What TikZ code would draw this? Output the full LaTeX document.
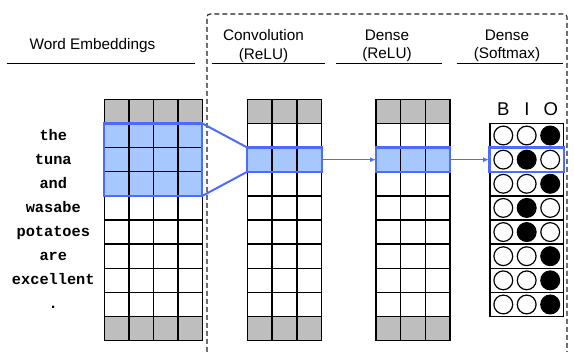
\documentclass[tikz,border=0pt]{standalone}
\usepackage{fontspec}
\setmainfont{Liberation Sans}
\newfontfamily\wordfont{Liberation Mono}
\usetikzlibrary{arrows.meta}
\definecolor{hlfill}{HTML}{A6C8FF}
\definecolor{hlline}{HTML}{4D6BFF}
\definecolor{cellgray}{HTML}{BEBEBE}
\definecolor{dashcol}{HTML}{222222}
\begin{document}
\begin{tikzpicture}[x=1pt,y=-1pt,
  gridline/.style={line width=1.45pt,black},
  hlarea/.style={fill=hlfill,inner sep=0pt,outer sep=0pt,anchor=north west},
  hlborder/.style={line width=2.3pt,hlline},
  hlconn/.style={line width=2pt,hlline},
  hlarrow/.style={line width=1.3pt,hlline,-{Latex[length=6pt,width=5pt]}},
  header/.style={font=\fontsize{15.3}{18.3}\selectfont,align=center,inner sep=0pt},
  headrule/.style={line width=0.9pt,black},
  word/.style={font=\wordfont\bfseries\fontsize{15.3}{18}\selectfont,anchor=base,inner sep=0pt},
  biolabel/.style={font=\fontsize{18.5}{20}\selectfont,anchor=base,inner sep=0pt},
  dashbox/.style={line width=1.1pt,dashcol,dash pattern=on 5pt off 3pt,rounded corners=3pt},
  emptydot/.style={draw=black,line width=1.2pt,fill=white},
  fulldot/.style={draw=black,line width=1.2pt,fill=black}
]
\useasboundingbox (0,0) rectangle (574,352);
\def\rh{24.14}
\def\yt{99.3}
\pgfmathsetmacro\yb{\yt+10*\rh}
% x positions
\def\ea{104.3}\def\ew{24.5}
\def\ca{247.3}\def\cw{24.8}
\def\da{376}\def\dw{24.67}
% ---------- dashed box
\draw[dashbox] (207,360) -- (207,14) -- (567,14) -- (567,360);
% ---------- headers
\node[header] (hwe) at (92.5,46) {Word Embeddings};
\draw[headrule] (6.7,63.3) -- (195,63.3);
\node[header] (hconv) at (263.5,46) {Convolution\\(ReLU)};
\draw[headrule] (211.7,63.3) -- (325,63.3);
\node[header] (hdense) at (387,46) {Dense\\(ReLU)};
\draw[headrule] (336,63.3) -- (442.3,63.3);
\node[header] (hsoft) at (507,46) {Dense\\(Softmax)};
\draw[headrule] (456.7,63.3) -- (563.3,63.3);
% ---------- gray rows
\foreach \xa/\w/\n in {\ea/\ew/4,\ca/\cw/3,\da/\dw/3}{
  \fill[cellgray] (\xa,\yt) rectangle (\xa+\n*\w,\yt+\rh);
  \fill[cellgray] (\xa,\yt+9*\rh) rectangle (\xa+\n*\w,\yt+10*\rh);
}
% ---------- highlight fills
\node[hlarea,minimum width=4*\ew,minimum height=3*\rh] (emb) at (\ea,\yt+\rh) {};
\node[hlarea,minimum width=3*\cw,minimum height=\rh] (conv) at (\ca,\yt+2*\rh) {};
\node[hlarea,minimum width=3*\dw,minimum height=\rh] (dense) at (\da,\yt+2*\rh) {};
% ---------- grid lines
\foreach \xa/\w/\n in {\ea/\ew/4,\ca/\cw/3,\da/\dw/3}{
  \foreach \i in {1,...,9}
    \draw[gridline] (\xa,\yt+\i*\rh) -- (\xa+\n*\w,\yt+\i*\rh);
  \foreach \j in {1,...,\n}
    \draw[gridline] (\xa+\j*\w-\w,\yt) -- (\xa+\j*\w-\w,\yb);
  \draw[gridline] (\xa,\yt) rectangle (\xa+\n*\w,\yb);
}
% ---------- softmax column
\def\sa{490}\def\sb{563.5}
\draw[gridline] (\sa,\yt+\rh) rectangle (\sb,\yt+9*\rh);
\foreach \i in {2,...,8}
  \draw[gridline] (\sa,\yt+\i*\rh) -- (\sb,\yt+\i*\rh);
\node[inner sep=0pt,outer sep=0pt,anchor=north west,minimum width=\sb-\sa,minimum height=\rh] (soft) at (\sa,\yt+2*\rh) {};
\foreach \r/\p in {1/3,2/2,3/3,4/2,5/2,6/3,7/3,8/3}{
  \foreach \k/\cx in {1/503.3,2/526.7,3/550.2}{
    \ifnum\k=\p
      \draw[fulldot] (\cx,\yt+\r*\rh+0.5*\rh) circle (9.4);
    \else
      \draw[emptydot] (\cx,\yt+\r*\rh+0.5*\rh) circle (9.4);
    \fi
  }
}
\node[biolabel] (lb) at (503.3,115.7) {B};
\node[biolabel] (li) at (527,115.7) {I};
\node[biolabel] (lo) at (550.7,115.7) {O};
% ---------- highlight borders and connectors
\draw[hlborder] (emb.north west) rectangle (emb.south east);
\draw[hlborder] (conv.north west) rectangle (conv.south east);
\draw[hlborder] (dense.north west) rectangle (dense.south east);
\draw[hlborder] ([xshift=-0.5pt]soft.north west) rectangle ([xshift=0.5pt]soft.south east);
\draw[hlconn] (emb.north east) -- (conv.north west);
\draw[hlconn] (emb.south east) -- (conv.south west);
\draw[hlarrow] (conv.east) -- (dense.west);
\draw[hlarrow] (dense.east) -- ([xshift=-1pt]soft.west);
% ---------- words
\foreach \t [count=\r] in {the,tuna,and,wasabe,potatoes,are,excellent,.}{
  \node[word] (w\r) at (53.3,\yt+\r*\rh+0.5*\rh+4.5) {\t};
}
\end{tikzpicture}
\end{document}
